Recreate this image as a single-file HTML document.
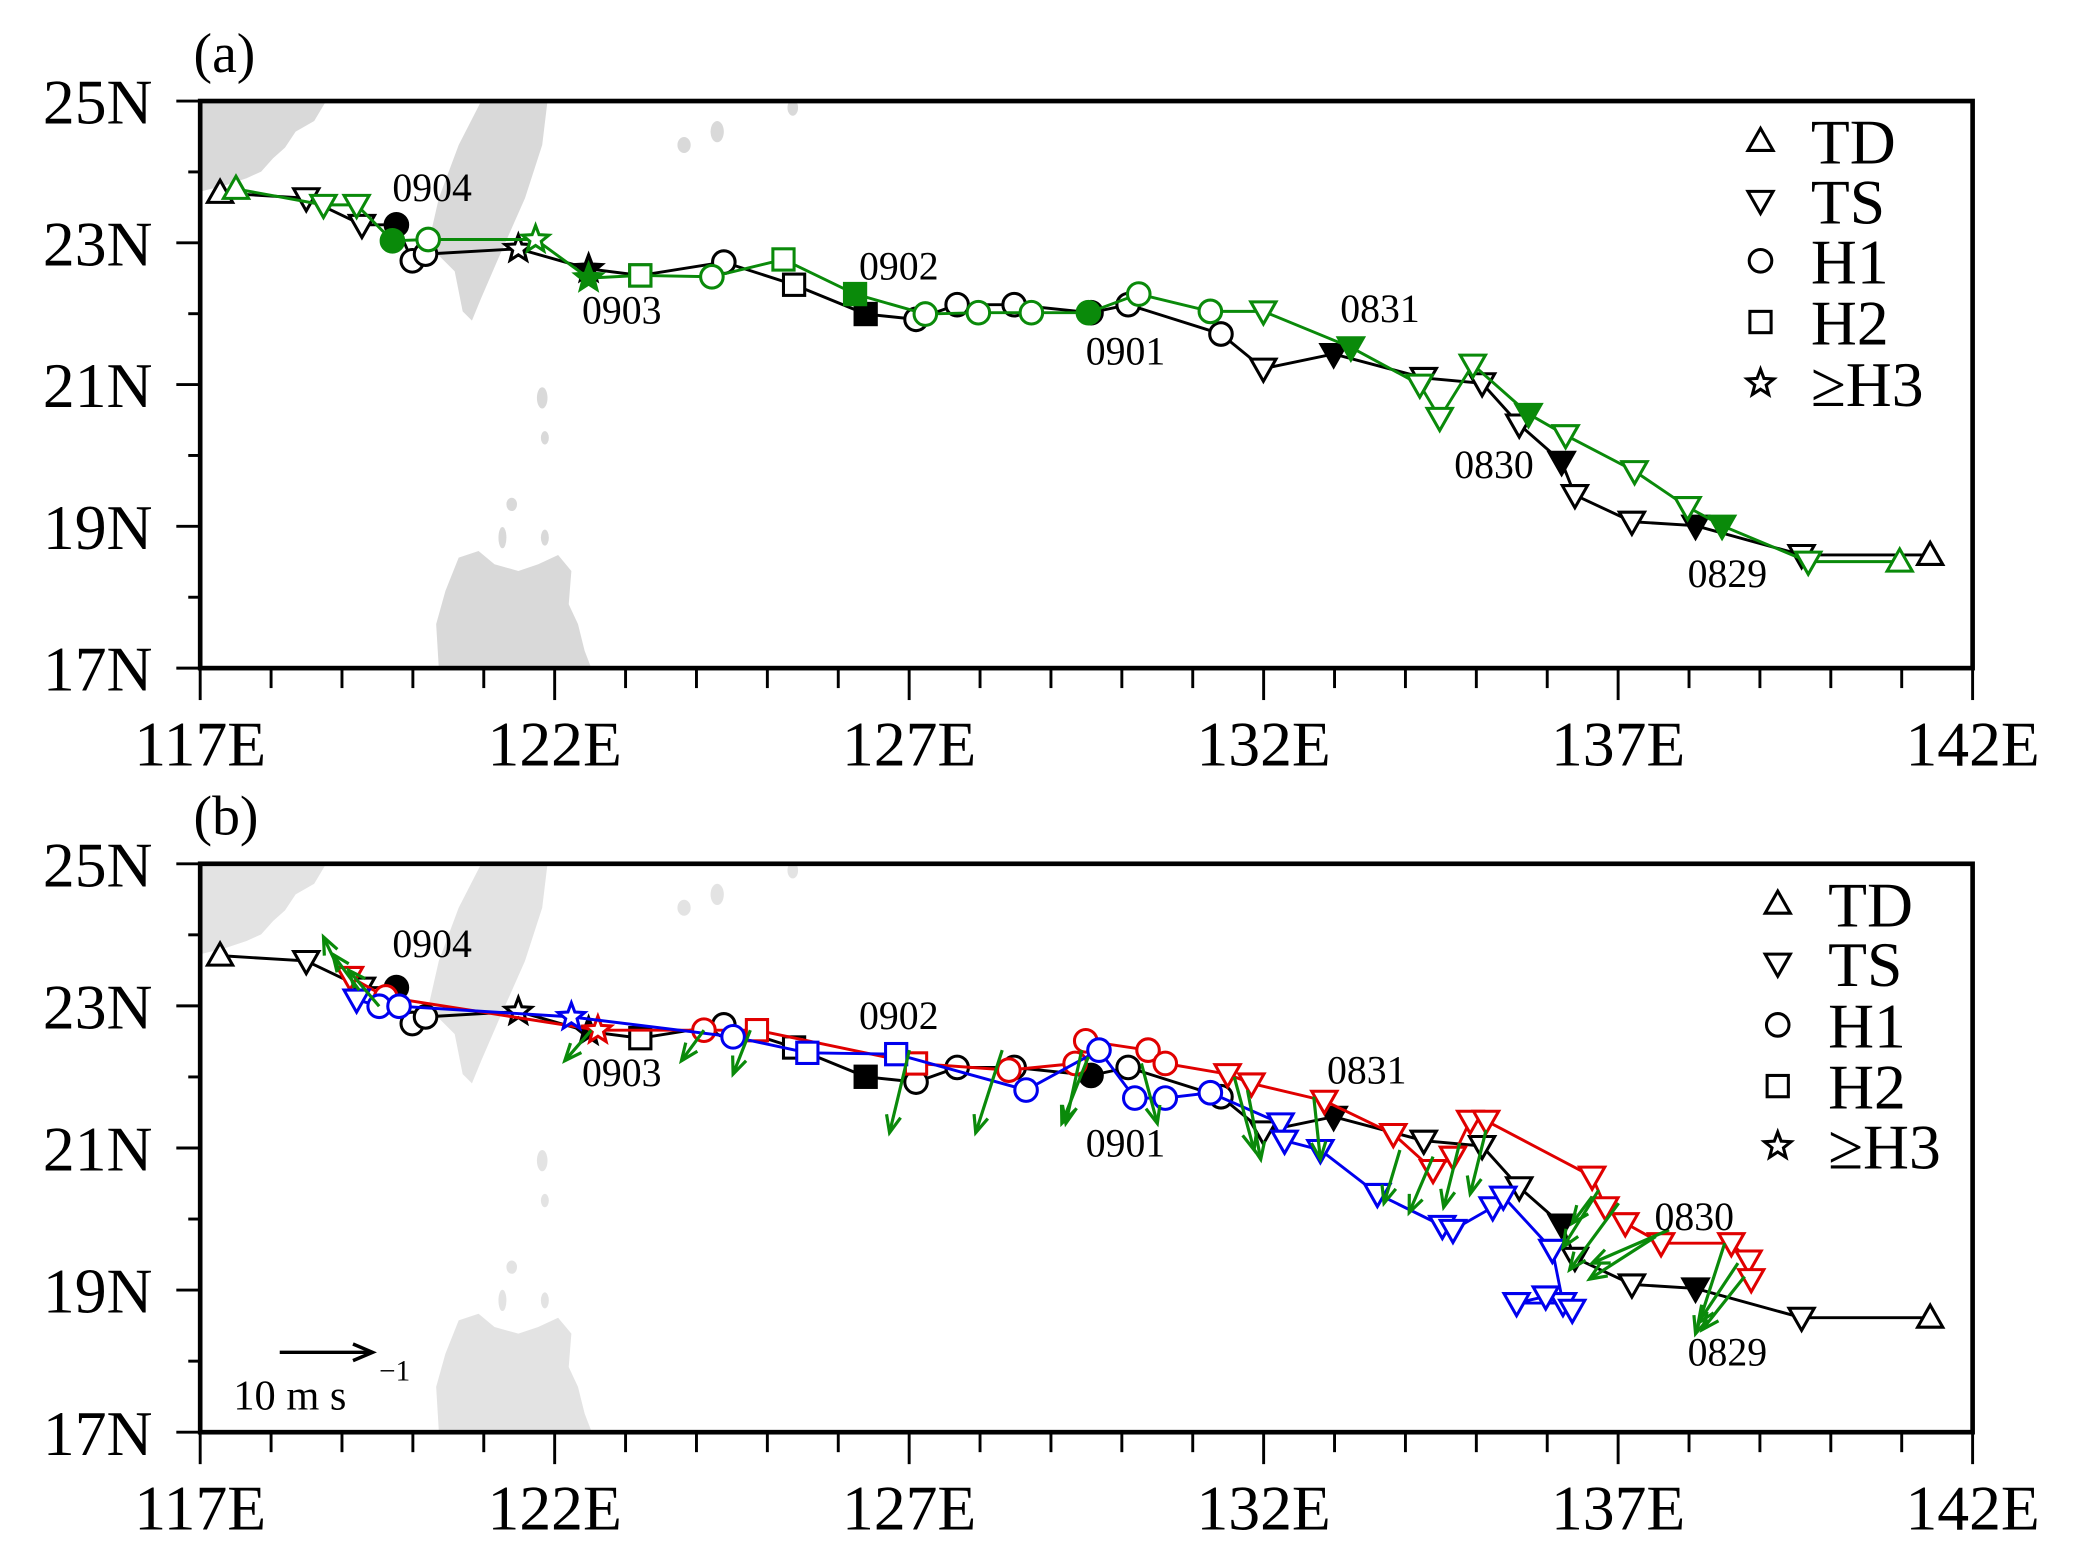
<!DOCTYPE html>
<html><head><meta charset="utf-8"><style>
html,body{margin:0;padding:0;background:#fff;}
svg{display:block;}
text{font-family:"Liberation Serif",serif;fill:#000;}
</style></head><body>
<svg id="s" width="2082" height="1563" viewBox="0 0 1560 1171.1" xmlns="http://www.w3.org/2000/svg">
<defs>
<clipPath id="ca"><rect x="150" y="77" width="1337" height="426"/></clipPath>
<clipPath id="cb"><rect x="150" y="650" width="1337" height="427"/></clipPath>
</defs>
<g id="root" transform="matrix(0.9933 0 0 0.9974 1.0 -1.1)"></g>
</svg>
<script>
const NS="http://www.w3.org/2000/svg";
const root=document.getElementById('root');
function el(t,a,p){const e=document.createElementNS(NS,t);for(const k in a)e.setAttribute(k,a[k]);(p||root).appendChild(e);return e;}
function txt(x,y,s,size,anchor,p){const e=el('text',{x:x,y:y,'font-size':size,'text-anchor':anchor||'start'},p);e.textContent=s;return e;}
function land(dy,fill,clip){
  const g=el('g',{'clip-path':'url(#'+clip+')',fill:fill});
  el('path',{d:`M150,${77+dy} L245,${77+dy} L236,${92+dy} L222,${100+dy} L214,${112+dy} L205,${120+dy} L196,${130+dy} L185,${135+dy} L170,${140+dy} L150,${145+dy}Z`},g);
  el('path',{d:`M362,${77+dy} L412,${77+dy} L408,${110+dy} L395,${150+dy} L375,${195+dy} L362,${225+dy} L355,${242+dy} L348,${235+dy} L342,${205+dy} L322,${185+dy} L330,${150+dy} L345,${110+dy}Z`},g);
  el('path',{d:`M345,${420+dy} L360,${415+dy} L372,${425+dy} L390,${430+dy} L405,${425+dy} L420,${418+dy} L430,${430+dy} L428,${455+dy} L435,${470+dy} L440,${490+dy} L445,${503+dy} L330,${503+dy} L328,${470+dy} L335,${445+dy}Z`},g);
  [[540,100,5,8],[515,110,5,6],[597,82,4,6],[408,300,4,8],[410,330,3,5],[385,380,4,5],[378,405,3,8],[410,405,3,6]].forEach(c=>el('ellipse',{cx:c[0],cy:c[1]+dy,rx:c[2],ry:c[3]},g));
}
function axes(top,bot,lab){
  el('rect',{x:150,y:top,width:1337,height:bot-top,fill:'none',stroke:'#000','stroke-width':3.5});
  for(let i=0;i<=25;i++){const x=150+i*53.48;const maj=i%5==0;el('line',{x1:x,y1:bot,x2:x,y2:bot+(maj?24:15),stroke:'#000','stroke-width':2.2});
    if(maj)txt(x,bot+73,(117+i)+'E',48,'middle');}
  const h=(bot-top)/8;
  for(let i=0;i<=8;i++){const y=bot-i*h;const maj=i%2==0;el('line',{x1:150,y1:y,x2:maj?132:141,y2:y,stroke:'#000','stroke-width':2.2});
    if(maj)txt(114,y+17,(17+i)+'N',48,'end');}
  txt(145,top-22,lab,42,'start');
}
function mk(type,x,y,col,fill){
  const f=fill?col:'#fff';const a={stroke:col,'stroke-width':2.3,fill:f};
  const s=9.5;
  if(type=='u'){a.points=`${x},${y-s} ${x-s},${y+s*0.75} ${x+s},${y+s*0.75}`;el('polygon',a);}
  else if(type=='d'){a.points=`${x},${y+s} ${x-s},${y-s*0.75} ${x+s},${y-s*0.75}`;el('polygon',a);}
  else if(type=='o'){a.cx=x;a.cy=y;a.r=8.5;el('circle',a);}
  else if(type=='s'){a.x=x-8;a.y=y-8;a.width=16;a.height=16;el('rect',a);}
  else if(type=='*'){let p=[];for(let i=0;i<10;i++){const r=i%2?4.5:10.5;const an=-Math.PI/2+i*Math.PI/5;p.push((x+r*Math.cos(an)).toFixed(1)+','+(y+r*Math.sin(an)).toFixed(1));}a.points=p.join(' ');el('polygon',a);}
}
function track(pts,col,dy){
  el('polyline',{points:pts.map(p=>p[1]+','+(p[2]+dy)).join(' '),fill:'none',stroke:col,'stroke-width':2.2});
  pts.forEach(p=>mk(p[0],p[1],p[2]+dy,col,p[3]));
}
function arrow(x1,y1,x2,y2,col,w,hl){
  const a=Math.atan2(y2-y1,x2-x1);
  el('line',{x1:x1,y1:y1,x2:x2,y2:y2,stroke:col,'stroke-width':w});
  const p=(d)=>[x2-hl*Math.cos(a+d),y2-hl*Math.sin(a+d)];
  const l=p(0.4),r=p(-0.4);
  el('polyline',{points:`${l[0]},${l[1]} ${x2},${y2} ${r[0]},${r[1]}`,fill:'none',stroke:col,'stroke-width':w});
}
function legend(x,ys){
  const n=[['u','TD'],['d','TS'],['o','H1'],['s','H2'],['*','≥H3']];
  n.forEach((q,i)=>{mk(q[0],x,ys[i],'#000',false);txt(x+38,ys[i]+17,q[1],48,'start');});
}
const black=[['u',165,146],['d',230,150],['d',272,170],['o',298,170,1],['o',310,197],['o',320,192],['*',390,188],['*',443,203,1],['s',482,208],['o',545,198],['s',598,215],['s',652,237,1],['o',690,241],['o',721,230],['o',764,230],['o',822,236,1],['o',850,230],['o',920,252],['d',952,278],['d',1005,267,1],['d',1073,285],['d',1117,289],['d',1145,320],['d',1177,348,1],['d',1187,373],['d',1230,393],['d',1278,396,1],['d',1358,418],['u',1455,418]];
const green=[['u',177,143],['d',243,155],['d',268,155],['o',295,182,1],['o',322,181],['*',403,181],['*',443,210,1],['s',482,208],['o',536,209],['s',590,196],['s',644,222,1],['o',697,237],['o',737,236],['o',777,236],['o',820,236,1],['o',858,222],['o',912,235],['d',952,235],['d',1018,262,1],['d',1070,290],['d',1085,315],['d',1110,275],['d',1152,312,1],['d',1180,328],['d',1232,355],['d',1272,382],['d',1298,396,1],['d',1363,423],['u',1432,423]];
// Panel a
land(0,'#d9d9d9','ca');
track(black,'#000',0);
track(green,'#0a8a0a',0);
[['0904',325,152],['0902',677,211],['0903',468,244],['0901',848,275],['0831',1040,243],['0830',1126,360],['0829',1302,442]].forEach(l=>txt(l[1],l[2],l[0],30,'middle'));
legend(1327,[107,152,197,243,289]);
axes(77,503,'(a)');
// Panel b
const D=573;
land(D,'#e3e3e3','cb');
const blackB=black.map(p=>[p[0],p[1],p[2]+D,p[3]]);
const red=[['d',263,735],['o',290,750],['*',450,775],['o',530,775],['s',570,775],['s',690,800],['o',760,805],['o',810,800],['o',818,783],['o',865,790],['o',878,800],['d',925,808],['d',943,815],['d',998,828],['d',1050,853],['d',1080,880],['d',1095,870],['d',1108,843],['d',1120,843],['d',1200,885],['d',1210,908],['d',1225,920],['d',1252,935],['d',1305,935],['d',1318,948],['d',1320,962]];
const blue=[['d',268,752],['o',285,757],['o',300,757],['*',430,765],['o',552,780],['s',608,792],['s',675,793],['o',773,820],['o',828,790],['o',855,826],['o',878,826],['o',912,822],['d',965,845],['d',968,858],['d',995,865],['d',1038,898],['d',1087,922],['d',1095,925],['d',1125,908],['d',1133,900],['d',1170,940],['d',1178,980],['d',1143,980],['d',1165,975],['d',1185,985]];
track(blackB,'#000',0);
track(red,'#e00000',0);
track(blue,'#0000ee',0);
[[255,730,243,705],[285,757,262,730],[270,745,250,718],[445,775,425,798],[530,775,513,798],[565,775,552,808],[685,790,670,852],[755,790,735,852],[815,790,803,845],[820,795,800,845],[860,800,872,845],[930,810,945,865],[940,820,950,872],[990,825,995,872],[1055,865,1043,905],[1080,870,1062,912],[1100,860,1088,908],[1120,850,1108,898],[1205,895,1178,938],[1220,905,1183,955],[1248,930,1198,962],[1258,925,1200,950],[1300,935,1278,1003],[1315,960,1283,1000],[1310,950,1280,995],[1200,900,1185,920]].forEach(a=>arrow(a[0],a[1],a[2],a[3],'#0a8a0a',2.4,14));
[['0904',325,720],['0902',677,774],['0903',468,817],['0901',848,870],['0831',1030,815],['0830',1277,925],['0829',1302,1027]].forEach(l=>txt(l[1],l[2],l[0],30,'middle'));
arrow(210,1017,280,1017,'#000',2.6,16);
txt(175,1060,'10  m s',32,'start');
txt(285,1038,'−1',22,'start');
legend(1340,[680,725,771,817,862]);
axes(650,1077,'(b)');
</script>
</body></html>
